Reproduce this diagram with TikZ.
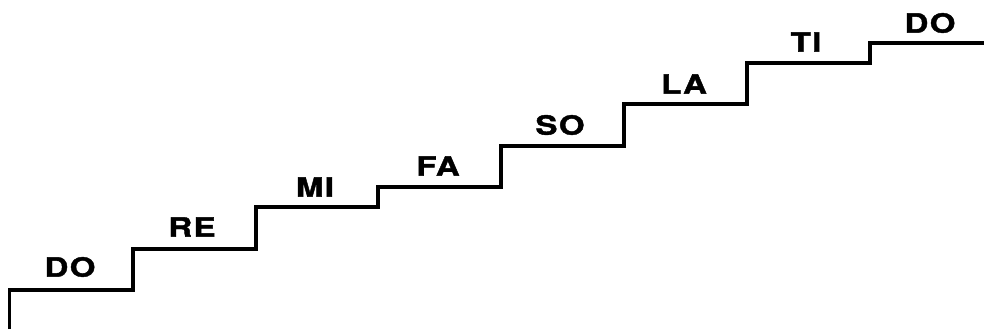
\documentclass[tikz,border=0pt]{standalone}
\usepackage{fontspec}
\newfontfamily\stepfont[FakeStretch=1.25,LetterSpace=5,FakeBold=1.6]{TeX Gyre Heros Bold}
\begin{document}
\begin{tikzpicture}[x=1pt,y=-1pt,
  stair/.style={line width=3.2pt,line join=miter,black},
  note/.style={font=\stepfont\fontsize{26.5}{26.5}\selectfont,inner sep=0pt,anchor=center,text=black}]
\useasboundingbox (0,0) rectangle (984,329);
\draw[stair] (9.5,329) |- (133,290) |- (256,249) |- (378,207) |- (501,187) |- (624,146) |- (747,104) |- (870,63) |- (984,43);
\node[note] (do1) at (70,267) {DO};
\node[note] (re) at (192,227) {RE};
\node[note] (mi) at (315,187) {MI};
\node[note] (fa) at (438,166) {FA};
\node[note] (so) at (560,125) {SO};
\node[note] (la) at (684,84) {LA};
\node[note] (ti) at (806,42) {TI};
\node[note] (do2) at (930,23) {DO};
\end{tikzpicture}
\end{document}
